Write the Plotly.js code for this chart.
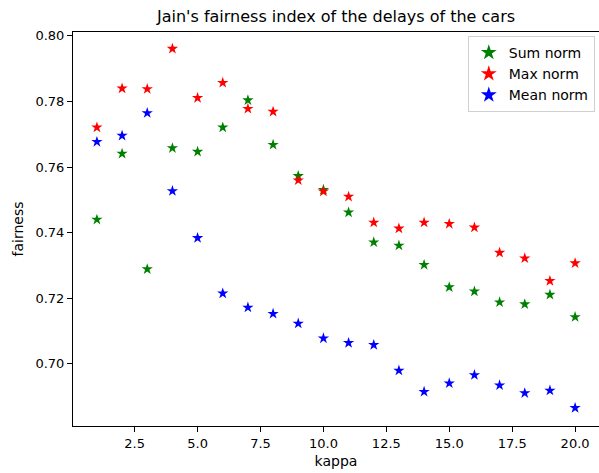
<!DOCTYPE html>
<html>
<head>
<meta charset="utf-8">
<script src="https://cdn.plot.ly/plotly-3.0.1.min.js"></script>
<style>html,body{margin:0;padding:0;background:#fff;}#chart{width:599px;height:473px;}</style>
</head>
<body>
<div id="chart"></div>
<script>
const kappa = [1,2,3,4,5,6,7,8,9,10,11,12,13,14,15,16,17,18,19,20];
const sumNorm = [0.7440,0.7641,0.7289,0.7658,0.7647,0.7721,0.7804,0.7668,0.7573,0.7531,0.7462,0.7371,0.7361,0.7302,0.7234,0.7221,0.7188,0.7182,0.7211,0.7143];
const maxNorm = [0.7721,0.7840,0.7838,0.7961,0.7811,0.7857,0.7778,0.7769,0.7560,0.7526,0.7510,0.7431,0.7413,0.7431,0.7427,0.7416,0.7339,0.7322,0.7253,0.7307];
const meanNorm = [0.7677,0.7696,0.7765,0.7527,0.7384,0.7215,0.7172,0.7153,0.7123,0.7078,0.7064,0.7058,0.6980,0.6915,0.6941,0.6966,0.6935,0.6911,0.6919,0.6866];
const seriesNames = ['Sum norm','Max norm','Mean norm'];
const seriesColors = ['green','red','blue'];
const seriesValues = [sumNorm, maxNorm, meanNorm];

const traces = seriesValues.map((vals, i) => ({
  x: kappa, y: vals, type: 'scatter', mode: 'markers', name: seriesNames[i],
  marker: {symbol: 'star', size: 8.5, color: seriesColors[i], line: {width: 0}}
}));

const font = {family: 'DejaVu Sans, sans-serif', color: '#000'};
const layout = {
  width: 599, height: 473,
  margin: {l: 73, r: 0, t: 32, b: 47},
  paper_bgcolor: '#fff', plot_bgcolor: '#fff',
  font: Object.assign({size: 13}, font),
  title: {text: "Jain's fairness index of the delays of the cars", font: Object.assign({size: 16}, font), x: 0.561, xanchor: 'center', y: 0.965, yanchor: 'middle'},
  xaxis: {
    range: [0.05, 20.95], tick0: 0, dtick: 2.5, tickformat: '.1f',
    ticks: 'outside', ticklen: 5, tickwidth: 1, tickcolor: '#000',
    showgrid: false, zeroline: false, showline: true, linecolor: '#000', linewidth: 1, mirror: true,
    tickfont: Object.assign({size: 13}, font),
    title: {text: 'kappa', font: Object.assign({size: 14}, font), standoff: 6}
  },
  yaxis: {
    range: [0.68107, 0.80119], tick0: 0, dtick: 0.02, tickformat: '.2f',
    ticks: 'outside', ticklen: 5, tickwidth: 1, tickcolor: '#000',
    showgrid: false, zeroline: false, showline: true, linecolor: '#000', linewidth: 1, mirror: true,
    tickfont: Object.assign({size: 13}, font),
    title: {text: 'fairness', font: Object.assign({size: 14}, font), standoff: 8}
  },
  showlegend: true,
  legend: {
    x: 0.992, xanchor: 'right', y: 0.99, yanchor: 'top',
    bgcolor: '#fff', bordercolor: '#d0d0d0', borderwidth: 1,
    font: Object.assign({size: 14}, font), itemsizing: 'constant', tracegroupgap: 0
  }
};

Plotly.newPlot('chart', traces, layout, {displayModeBar: false, staticPlot: true});
</script>
</body>
</html>
